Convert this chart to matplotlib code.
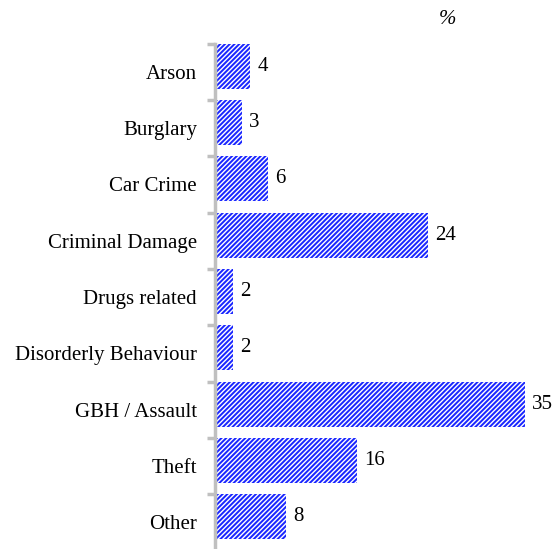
import matplotlib.pyplot as plt
import numpy as np

categories = ['Arson', 'Burglary', 'Car Crime', 'Criminal Damage', 'Drugs related',
              'Disorderly Behaviour', 'GBH / Assault', 'Theft', 'Other']
values = [4, 3, 6, 24, 2, 2, 35, 16, 8]

plt.rcParams['font.family'] = ['Liberation Serif', 'DejaVu Serif']
plt.rcParams['hatch.color'] = 'white'
plt.rcParams['hatch.linewidth'] = 1.0

fig = plt.figure(figsize=(5.6, 5.49), dpi=100)
ax = fig.add_axes([215 / 560, -0.003, 310 / 560, 507 / 549])

y = np.arange(len(categories))
bars = ax.barh(y - 0.5, values, height=0.8, align='edge', color='#1a26ff',
               hatch='///////', edgecolor='white', linewidth=0)
for b, v in zip(bars, values):
    ax.text(v + 0.8, b.get_y() + b.get_height() / 2, str(v), va='center',
            ha='left', fontsize=15)

ax.set_xlim(0, 35)
ax.set_ylim(len(categories) - 0.5, -0.5)
ax.set_yticks(y)
ax.set_yticklabels(categories, fontsize=15)
ax.tick_params(axis='y', which='major', length=0, pad=13)
ax.set_yticks(np.arange(len(categories) + 1) - 0.5, minor=True)
ax.tick_params(axis='y', which='minor', length=6, width=2.5, color='#c0c0c0')
ax.set_xticks([])
for s in ['top', 'right', 'bottom']:
    ax.spines[s].set_visible(False)
ax.spines['left'].set_color('#c0c0c0')
ax.spines['left'].set_linewidth(2.5)

fig.text(447 / 560, 1 - 19 / 549, '%', fontsize=15, style='italic', ha='center', va='center')

fig.savefig('out.png', dpi=100)
